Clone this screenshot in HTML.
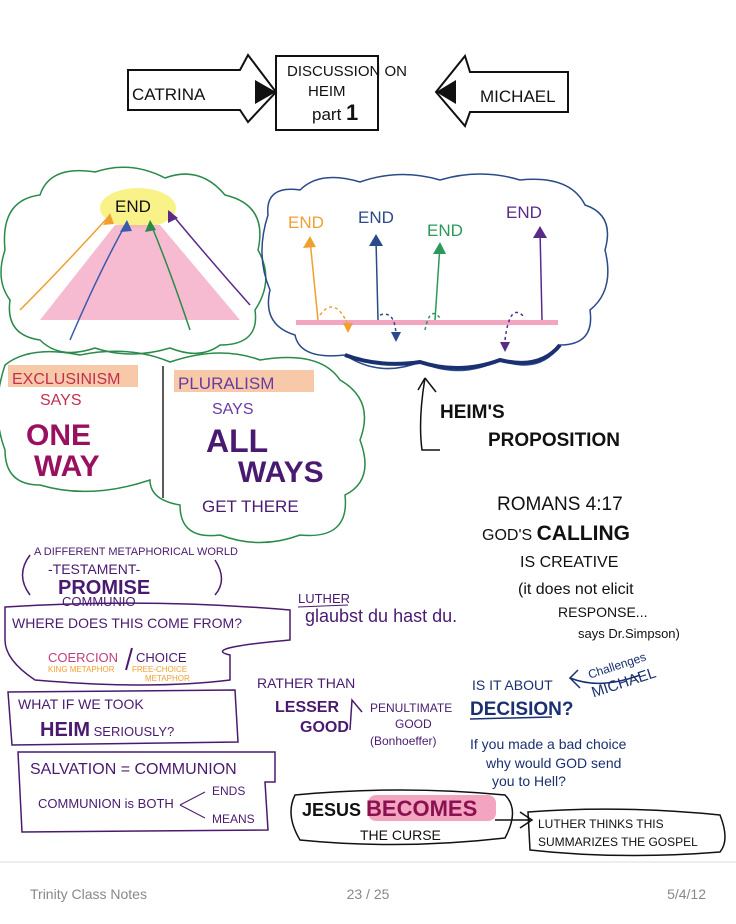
<!DOCTYPE html>
<html><head><meta charset="utf-8"><style>
html,body{margin:0;padding:0;background:#fff;}
svg{display:block}
text{font-family:"Liberation Sans",sans-serif;}
.h{font-family:"Liberation Sans Narrow","Liberation Sans",sans-serif;}
</style></head><body>
<svg width="736" height="924" viewBox="0 0 736 924" xmlns="http://www.w3.org/2000/svg">
<g fill="none" stroke="#111" stroke-width="2">
<rect x="276" y="56" width="102" height="74"/>
<path d="M128 70 L240 70 L248 55 L276 92 L248 122 L240 110 L128 110 Z"/>
<path d="M568 72 L470 72 L465 56 L436 92 L465 126 L470 112 L568 112 Z"/>
</g>
<path d="M255 80 L276 92 L255 104 Z" fill="#111"/>
<path d="M456 80 L436 92 L456 104 Z" fill="#111"/>
<g fill="#111" class="h" font-size="17">
<text x="132" y="100">CATRINA</text>
<text x="480" y="102">MICHAEL</text>
<text x="287" y="76" font-size="15">DISCUSSION ON</text>
<text x="308" y="96" font-size="15">HEIM</text>
<text x="312" y="120" font-size="17">part <tspan font-weight="bold" font-size="22">1</tspan></text>
</g>

<path d="M5 250 Q0 200 40 195 Q50 165 95 172 Q130 160 165 178 Q200 165 225 195 Q268 205 258 250 Q275 280 255 310 Q260 345 220 345 Q200 360 170 348 Q130 360 95 348 Q60 360 40 340 Q5 335 10 300 Q-5 280 5 250 Z" fill="none" stroke="#2a8a4a" stroke-width="1.5"/>
<ellipse cx="138" cy="208" rx="38" ry="20" fill="#f6ef6a" opacity="0.8"/>
<path d="M115 225 L160 225 L240 320 L40 320 Z" fill="#f3a4c0" opacity="0.75"/>
<text x="115" y="212" font-size="17" fill="#111" class="h">END</text>
<g fill="none" stroke-width="1.5">
<path d="M20 310 Q60 270 110 215" stroke="#f0a030"/>
<path d="M70 340 Q100 270 127 222" stroke="#3a5ab0"/>
<path d="M190 330 Q170 270 150 222" stroke="#2a8a4a"/>
<path d="M250 305 Q210 260 170 212" stroke="#5a2a8a"/>
</g>
<path d="M110 213 L103 225 L114 224 Z" fill="#f0a030"/>
<path d="M127 220 L120 232 L132 231 Z" fill="#3a5ab0"/>
<path d="M150 220 L145 232 L156 230 Z" fill="#2a8a4a"/>
<path d="M168 210 L168 223 L178 218 Z" fill="#5a2a8a"/>

<path d="M268 215 Q265 185 300 190 Q320 170 360 182 Q400 168 440 180 Q480 168 520 180 Q570 175 585 205 Q615 215 605 250 Q615 290 590 310 Q595 345 560 345 Q540 375 500 360 Q460 380 420 362 Q380 378 345 355 Q300 360 295 335 Q262 325 270 290 Q255 255 268 215 Z" fill="none" stroke="#2a4a8a" stroke-width="1.5"/>
<path d="M345 355 Q380 368 420 362 Q460 375 500 360 Q540 370 560 345" fill="none" stroke="#1a3070" stroke-width="4"/>
<rect x="296" y="320" width="262" height="5" fill="#f3a4c0"/>
<g font-size="17" class="h">
<text x="288" y="228" fill="#f0a030">END</text>
<text x="358" y="223" fill="#2a4a8a">END</text>
<text x="427" y="236" fill="#2a9a5a">END</text>
<text x="506" y="218" fill="#5a2a8a">END</text>
</g>
<g fill="none" stroke-width="1.5">
<path d="M310 240 L318 320" stroke="#f0a030"/>
<path d="M376 240 L378 320" stroke="#2a4a8a"/>
<path d="M440 245 L435 320" stroke="#2a9a5a"/>
<path d="M540 230 L542 320" stroke="#5a2a8a"/>
<path d="M320 315 Q335 295 348 325" stroke="#f0a030" stroke-dasharray="3,3"/>
<path d="M380 315 Q395 310 396 335" stroke="#2a4a8a" stroke-dasharray="3,3"/>
<path d="M425 330 Q430 305 440 318" stroke="#2a9a5a" stroke-dasharray="3,3"/>
<path d="M505 340 Q510 300 525 318" stroke="#5a2a8a" stroke-dasharray="3,3"/>
</g>
<path d="M310 236 L303 248 L316 247 Z" fill="#f0a030"/>
<path d="M376 234 L369 246 L383 246 Z" fill="#2a4a8a"/>
<path d="M440 242 L433 254 L446 254 Z" fill="#2a9a5a"/>
<path d="M540 226 L533 238 L547 238 Z" fill="#5a2a8a"/>
<path d="M343 323 L348 333 L353 323 Z" fill="#f0a030"/>
<path d="M391 332 L396 342 L401 332 Z" fill="#2a4a8a"/>
<path d="M500 342 L505 352 L510 342 Z" fill="#5a2a8a"/>

<path d="M440 450 L422 450 Q418 420 425 378 L418 390 M425 378 L436 392" fill="none" stroke="#111" stroke-width="1.5"/>
<text x="440" y="418" font-size="19" font-weight="bold" fill="#111" class="h">HEIM'S</text>
<text x="488" y="446" font-size="19" font-weight="bold" fill="#111" class="h">PROPOSITION</text>

<path d="M5 365 Q30 345 80 355 Q130 345 170 362 Q220 345 260 360 Q320 350 340 380 Q375 400 360 440 Q375 480 345 495 Q350 540 300 535 Q260 550 220 535 Q180 540 180 505 Q150 500 150 480 Q90 500 40 485 Q5 485 5 450 Q-10 410 5 365 Z" fill="none" stroke="#2a8a4a" stroke-width="1.5"/>
<line x1="163" y1="366" x2="163" y2="498" stroke="#222" stroke-width="1.5"/>
<rect x="8" y="365" width="130" height="22" fill="#f7c9a8"/>
<rect x="174" y="370" width="140" height="22" fill="#f7c9a8"/>
<g class="h">
<text x="12" y="384" font-size="16" fill="#c03050">EXCLUSINISM</text>
<text x="40" y="405" font-size="16" fill="#c03050">SAYS</text>
<text x="26" y="445" font-size="30" font-weight="bold" fill="#9a1060">ONE</text>
<text x="34" y="476" font-size="30" font-weight="bold" fill="#9a1060">WAY</text>
<text x="178" y="389" font-size="17" fill="#6a3aa0">PLURALISM</text>
<text x="212" y="414" font-size="16" fill="#6a3aa0">SAYS</text>
<text x="206" y="452" font-size="32" font-weight="bold" fill="#4a1a70">ALL</text>
<text x="238" y="482" font-size="30" font-weight="bold" fill="#4a1a70">WAYS</text>
<text x="202" y="512" font-size="17" fill="#4a1a70">GET THERE</text>
</g>

<g fill="#111" class="h">
<text x="497" y="510" font-size="19">ROMANS 4:17</text>
<text x="482" y="540" font-size="16">GOD'S <tspan font-size="21" font-weight="bold">CALLING</tspan></text>
<text x="520" y="567" font-size="16">IS CREATIVE</text>
<text x="518" y="594" font-size="16">(it does not elicit</text>
<text x="558" y="617" font-size="14">RESPONSE...</text>
<text x="578" y="638" font-size="13">says Dr.Simpson)</text>
</g>

<g fill="#4a1a70" class="h">
<text x="34" y="555" font-size="11">A DIFFERENT METAPHORICAL WORLD</text>
<text x="48" y="574" font-size="14">-TESTAMENT-</text>
<text x="58" y="594" font-size="20" font-weight="bold">PROMISE</text>
<text x="62" y="606" font-size="13">COMMUNIO</text>
</g>
<path d="M30 555 Q15 575 30 595 M215 560 Q228 580 215 595" fill="none" stroke="#4a1a70" stroke-width="1.5"/>
<path d="M5 607 Q150 598 290 610 L290 640 Q200 648 230 655 L230 680 Q150 690 35 680 Q5 660 5 640 Z" fill="none" stroke="#4a1a70" stroke-width="1.5"/>
<text x="12" y="628" font-size="14" fill="#4a1a70" class="h">WHERE DOES THIS COME FROM?</text>
<text x="48" y="662" font-size="13" fill="#c04080" class="h">COERCION</text>
<text x="136" y="662" font-size="13" fill="#4a1a70" class="h">CHOICE</text>
<line x1="126" y1="670" x2="132" y2="648" stroke="#4a1a70" stroke-width="2"/>
<text x="48" y="672" font-size="8" fill="#f0a030" class="h">KING METAPHOR</text>
<text x="132" y="672" font-size="8" fill="#f0a030" class="h">FREE-CHOICE</text>
<text x="145" y="681" font-size="8" fill="#f0a030" class="h">METAPHOR</text>
<path d="M8 692 L235 690 L238 742 L12 745 Z" fill="none" stroke="#4a1a70" stroke-width="1.5"/>
<text x="18" y="709" font-size="14" fill="#4a1a70" class="h">WHAT IF WE TOOK</text>
<text x="40" y="736" font-size="20" font-weight="bold" fill="#4a1a70" class="h">HEIM<tspan font-size="13" font-weight="normal"> SERIOUSLY?</tspan></text>
<path d="M18 752 L275 752 L275 782 L265 782 L268 830 L22 832 Z" fill="none" stroke="#4a1a70" stroke-width="1.5"/>
<text x="30" y="774" font-size="16" fill="#4a1a70" class="h">SALVATION = COMMUNION</text>
<text x="38" y="808" font-size="13" fill="#4a1a70" class="h">COMMUNION is BOTH</text>
<path d="M180 805 L205 792 M180 805 L205 818" stroke="#4a1a70" fill="none"/>
<text x="212" y="795" font-size="12" fill="#4a1a70" class="h">ENDS</text>
<text x="212" y="823" font-size="12" fill="#4a1a70" class="h">MEANS</text>

<g fill="#4a1a70" class="h">
<text x="298" y="603" font-size="13">LUTHER</text>
<line x1="298" y1="607" x2="348" y2="605" stroke="#4a1a70"/>
<text x="305" y="622" font-size="18">glaubst du hast du.</text>
<text x="257" y="688" font-size="14">RATHER THAN</text>
<text x="275" y="712" font-size="16" font-weight="bold">LESSER</text>
<text x="300" y="732" font-size="16" font-weight="bold">GOOD</text>
<text x="370" y="712" font-size="12">PENULTIMATE</text>
<text x="395" y="728" font-size="12">GOOD</text>
<text x="370" y="745" font-size="12">(Bonhoeffer)</text>
</g>
<path d="M350 730 L352 700 L362 712" fill="none" stroke="#4a1a70" stroke-width="1.5"/>
<g fill="#1a3070" class="h">
<text x="472" y="690" font-size="14">IS IT ABOUT</text>
<text x="470" y="715" font-size="19" font-weight="bold">DECISION?</text>
<line x1="470" y1="719" x2="552" y2="717" stroke="#1a3070" stroke-width="1.5"/>
<text x="470" y="749" font-size="14">If you made a bad choice</text>
<text x="486" y="768" font-size="14">why would GOD send</text>
<text x="492" y="786" font-size="14">you to Hell?</text>
<text x="588" y="672" font-size="12" transform="rotate(-18 610 670)">Challenges</text>
<text x="592" y="692" font-size="15" transform="rotate(-18 610 690)">MICHAEL</text>
</g>
<path d="M640 675 Q600 690 570 678 L578 670 M570 678 L580 688" fill="none" stroke="#1a3070" stroke-width="1.5"/>

<rect x="368" y="795" width="128" height="26" rx="8" fill="#f3a4c0"/>
<path d="M295 795 Q400 785 505 795 Q520 810 505 838 Q400 850 300 840 Q285 815 295 795 Z" fill="none" stroke="#111" stroke-width="1.5"/>
<text x="302" y="816" font-size="18" font-weight="bold" fill="#111" class="h">JESUS <tspan fill="#8a1050" font-size="22">BECOMES</tspan></text>
<text x="360" y="840" font-size="14" fill="#111" class="h">THE CURSE</text>
<path d="M495 820 L530 820 M520 812 L532 820 L520 828" fill="none" stroke="#111" stroke-width="1.5"/>
<path d="M528 812 Q620 805 720 815 Q730 840 720 852 Q620 860 530 850 Z" fill="none" stroke="#111" stroke-width="1.5"/>
<text x="538" y="828" font-size="12" fill="#111" class="h">LUTHER THINKS THIS</text>
<text x="538" y="846" font-size="12" fill="#111" class="h">SUMMARIZES THE GOSPEL</text>

<line x1="0" y1="862" x2="736" y2="862" stroke="#ddd" stroke-width="1"/>
<g font-size="14" fill="#888">
<text x="30" y="899">Trinity Class Notes</text>
<text x="368" y="899" text-anchor="middle">23 / 25</text>
<text x="706" y="899" text-anchor="end">5/4/12</text>
</g>
</svg>
</body></html>
